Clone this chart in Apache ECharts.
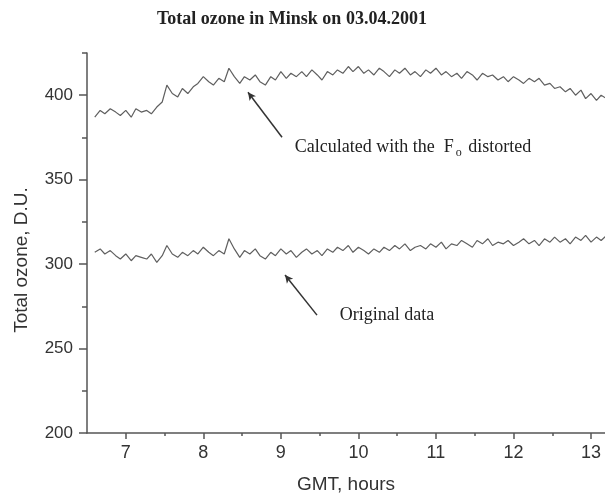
<!DOCTYPE html>
<html>
<head>
<meta charset="utf-8">
<script src="https://cdn.jsdelivr.net/npm/echarts@6/dist/echarts.min.js"></script>
<style>html,body{margin:0;padding:0;background:#fff}#c{width:605px;height:494px}</style>
</head>
<body>
<div id="c"></div>
<script>
const times = [
 6.60, 6.67, 6.73, 6.80, 6.87, 6.93, 7.00, 7.07, 7.13, 7.20,
 7.27, 7.33, 7.40, 7.47, 7.53, 7.60, 7.67, 7.73, 7.80, 7.87,
 7.93, 8.00, 8.07, 8.13, 8.20, 8.27, 8.33, 8.40, 8.47, 8.53,
 8.60, 8.67, 8.73, 8.80, 8.87, 8.93, 9.00, 9.07, 9.13, 9.20,
 9.27, 9.33, 9.40, 9.47, 9.53, 9.60, 9.67, 9.73, 9.80, 9.87,
 9.93, 10.00, 10.07, 10.13, 10.20, 10.27, 10.33, 10.40, 10.47, 10.53,
 10.60, 10.67, 10.73, 10.80, 10.87, 10.93, 11.00, 11.07, 11.13, 11.20,
 11.27, 11.33, 11.40, 11.47, 11.53, 11.60, 11.67, 11.73, 11.80, 11.87,
 11.93, 12.00, 12.07, 12.13, 12.20, 12.27, 12.33, 12.40, 12.47, 12.53,
 12.60, 12.67, 12.73, 12.80, 12.87, 12.93, 13.00, 13.07, 13.13, 13.20
];
const originalData = [
 307, 309, 306, 308, 305, 303, 306, 302, 305, 304,
 303, 306, 301, 305, 311, 306, 304, 307, 305, 308,
 306, 310, 307, 305, 308, 306, 315, 309, 304, 308,
 306, 309, 305, 303, 307, 305, 309, 306, 308, 304,
 307, 309, 306, 308, 305, 309, 307, 310, 308, 311,
 307, 310, 308, 306, 309, 307, 310, 308, 311, 309,
 312, 308, 310, 311, 309, 312, 310, 313, 309, 312,
 311, 314, 312, 310, 314, 312, 315, 311, 313, 312,
 314, 311, 313, 315, 312, 314, 311, 315, 313, 316,
 313, 315, 312, 316, 314, 317, 313, 316, 314, 317
];
const calculatedData = [
 387, 391, 389, 392, 390, 388, 391, 387, 392, 390,
 391, 389, 393, 396, 406, 401, 399, 404, 401, 405,
 407, 411, 408, 406, 410, 408, 416, 411, 407, 411,
 409, 412, 408, 406, 411, 409, 414, 410, 413, 411,
 414, 411, 415, 412, 409, 414, 412, 415, 413, 417,
 414, 417, 413, 415, 412, 416, 414, 411, 415, 413,
 416, 412, 414, 411, 415, 413, 416, 412, 414, 411,
 413, 410, 414, 412, 409, 413, 411, 412, 409, 411,
 408, 411, 409, 407, 410, 408, 410, 406, 407, 404,
 405, 402, 404, 400, 403, 398, 401, 397, 400, 398
];
const xMajorTicks = [7, 8, 9, 10, 11, 12, 13];
const xMinorTicks = [7.5, 8.5, 9.5, 10.5, 11.5, 12.5];
const yMajorTicks = [200, 250, 300, 350, 400];
const yMinorTicks = [225, 275, 325, 375, 425];
// annotations (data coordinates): [tail, head]
const arrowCalc = [[9.015, 375.1], [8.576, 401.8]];
const arrowOrig = [[9.466, 269.8], [9.054, 293.5]];
const labelCalcPos = [9.18, 369.2];
const labelOrigPos = [9.76, 269.8];

const pair = (xs, ys) => xs.map((x, i) => [x, ys[i]]);
const axisColor = '#555';
const sans = 'Liberation Sans, Arial, sans-serif';
const serif = 'Liberation Serif, Times New Roman, serif';

const chart = echarts.init(document.getElementById('c'), null, {renderer: 'canvas'});
const lineStyle = {color: '#5f5f5f', width: 1.2};
chart.setOption({
  animation: false,
  backgroundColor: '#fff',
  title: {
    text: 'Total ozone in Minsk on 03.04.2001',
    left: 152, top: 5,
    textStyle: {fontFamily: serif, fontWeight: 'bold', fontSize: 18, color: '#222'}
  },
  grid: {left: 87, right: 0, top: 53, bottom: 61, containLabel: false, outerBoundsMode: 'none'},
  xAxis: [{
    type: 'value', min: 6.5, max: 13.18,
    name: 'GMT, hours', nameLocation: 'middle', nameGap: 42,
    nameTextStyle: {fontFamily: sans, fontSize: 19, color: '#333'},
    axisLine: {lineStyle: {color: axisColor, width: 1.5}},
    axisTick: {customValues: xMajorTicks, length: 6, lineStyle: {color: axisColor, width: 1.5}},
    axisLabel: {customValues: xMajorTicks, fontFamily: sans, fontSize: 18, color: '#333', margin: 11},
    splitLine: {show: false}
  }, {
    type: 'value', min: 6.5, max: 13.18, position: 'bottom',
    axisLine: {show: false},
    axisTick: {customValues: xMinorTicks, length: 3, lineStyle: {color: axisColor, width: 1.5}},
    axisLabel: {show: false},
    splitLine: {show: false}
  }],
  yAxis: [{
    type: 'value', min: 200, max: 425,
    name: 'Total ozone, D.U.', nameLocation: 'middle', nameGap: 56,
    nameTextStyle: {fontFamily: sans, fontSize: 19, color: '#333', padding: [0, 34, 0, 0]},
    axisLine: {show: true, lineStyle: {color: axisColor, width: 1.5}},
    axisTick: {show: true, customValues: yMajorTicks, length: 8, lineStyle: {color: axisColor, width: 1.5}},
    axisLabel: {customValues: yMajorTicks, fontFamily: sans, fontSize: 17, color: '#333', margin: 14},
    splitLine: {show: false}
  }, {
    type: 'value', min: 200, max: 425, position: 'left', offset: 0,
    axisLine: {show: false},
    axisTick: {show: true, customValues: yMinorTicks, length: 5, lineStyle: {color: axisColor, width: 1.5}},
    axisLabel: {show: false},
    splitLine: {show: false}
  }],
  series: [{
    name: 'Calculated', type: 'line', data: pair(times, calculatedData),
    showSymbol: false, symbol: 'none', lineStyle: lineStyle,
    markLine: {
      silent: true, symbol: ['none', 'arrow'], symbolSize: [6, 8],
      label: {show: false},
      lineStyle: {color: '#333', width: 1.5, type: 'solid'},
      data: [[{coord: arrowCalc[0]}, {coord: arrowCalc[1]}]]
    },
    markPoint: {
      silent: true, symbol: 'circle', symbolSize: 0,
      label: {
        show: true, position: 'right', distance: 0, color: '#222',
        fontFamily: serif, fontSize: 18,
        formatter: 'Calculated with the  F{sub|o} distorted',
        rich: {sub: {fontFamily: serif, fontSize: 12, color: '#222', verticalAlign: 'bottom', padding: [12, 2, 0, 2]}}
      },
      data: [{coord: labelCalcPos}]
    }
  }, {
    name: 'Original', type: 'line', data: pair(times, originalData),
    showSymbol: false, symbol: 'none', lineStyle: lineStyle,
    markLine: {
      silent: true, symbol: ['none', 'arrow'], symbolSize: [6, 8],
      label: {show: false},
      lineStyle: {color: '#333', width: 1.5, type: 'solid'},
      data: [[{coord: arrowOrig[0]}, {coord: arrowOrig[1]}]]
    },
    markPoint: {
      silent: true, symbol: 'circle', symbolSize: 0,
      label: {
        show: true, position: 'right', distance: 0, color: '#222',
        fontFamily: serif, fontSize: 18, formatter: 'Original data'
      },
      data: [{coord: labelOrigPos}]
    }
  }]
});
</script>
</body>
</html>
